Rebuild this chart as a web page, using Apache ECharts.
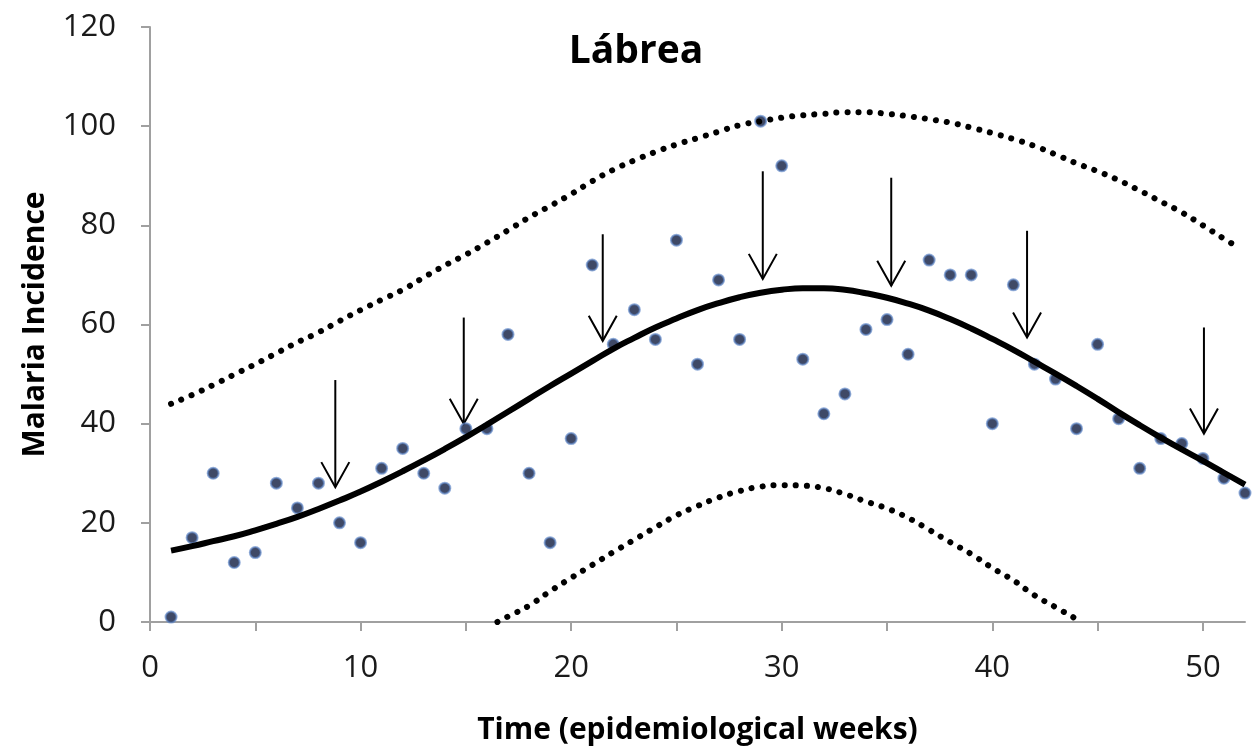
<!DOCTYPE html>
<html>
<head>
<meta charset="utf-8">
<title>Lábrea</title>
<script src="https://cdn.jsdelivr.net/npm/echarts@6/dist/echarts.min.js"></script>
<style>
	html, body { margin: 0; padding: 0; background: #fff; }
	#chart { width: 1259px; height: 752px; }
</style>
</head>
<body>
<div id="chart"></div>
<script>
// semanas epidemiológicas e incidência observada
var weeks = [1,2,3,4,5,6,7,8,9,10,11,12,13,14,15,16,17,18,19,20,21,22,23,24,25,26,
	27,28,29,30,31,32,33,34,35,36,37,38,39,40,41,42,43,44,45,46,47,48,49,50,51,52];
var incidence = [1,17,30,12,14,28,23,28,20,16,31,35,30,27,39,39,58,30,16,37,72,56,63,57,77,52,
	69,57,101,92,53,42,46,59,61,54,73,70,70,40,68,52,49,39,56,41,31,37,36,33,29,26];

// curva ajustada (linha cheia)
var fitted = [14.4,15.3,16.3,17.3,18.5,19.8,21.2,22.8,24.5,26.3,28.3,30.4,32.6,34.9,37.3,39.8,42.4,45.0,47.6,50.1,52.6,55.1,57.3,59.4,61.2,62.9,64.3,65.5,66.4,67.0,67.3,67.3,
	67.0,66.3,65.4,64.2,62.8,61.1,59.2,57.1,54.9,52.5,50.1,47.6,45.0,42.3,39.7,37.2,34.8,32.5,30.1,27.7];

// limite superior (pontilhado)
var upperWeeks = [1,2,3,4,5,6,7,8,9,10,11,12,13,14,15,16,17,18,19,20,21,22,23,24,25,26,
	27,28,29,30,31,32,33,34,35,36,37,38,39,40,41,42,43,44,45,46,47,48,49,50,51,51.7];
var upper = [44.0,45.8,47.8,49.9,52.0,54.2,56.4,58.4,60.7,62.9,65.0,67.0,69.5,71.9,74.1,76.5,79.0,81.6,83.9,86.3,88.9,91.2,93.1,94.8,96.3,97.6,
	98.9,100.2,101.0,101.7,102.2,102.5,102.8,102.8,102.5,102.0,101.4,100.7,99.7,98.6,97.4,96.0,94.3,92.5,90.9,89.1,87.0,84.8,82.6,80.0,77.3,75.5];

// limite inferior (pontilhado)
var lowerWeeks = [16.5,17,18,19,20,21,22,23,24,25,26,27,28,29,30,31,32,33,34,35,36,37,38,39,40,41,42,43,44,44.3];
var lower = [0,1.1,3.3,6.2,8.9,11.5,14.1,16.6,19.1,21.5,23.4,25.1,26.4,27.3,27.6,27.5,27.0,25.8,24.3,22.9,21.0,18.6,16.1,13.7,10.9,8.4,5.4,3.0,0.6,0];

// setas
var arrowWeek = [8.8,14.9,21.5,29.1,35.2,41.65,50.05];
var arrowTop = [48.8,61.4,78.2,90.9,89.6,78.9,59.4];
var arrowTip = [27.2,40.0,56.7,69.2,67.8,57.4,38.0];

// marcas dos eixos
var xTicks = [0,5,10,15,20,25,30,35,40,45,50];
var xLabels = [0,10,20,30,40,50];

function pairs(xs, ys) {
	var out = [];
	for (var i = 0; i < xs.length; i++) out.push([xs[i], ys[i]]);
	return out;
}

var arrowData = [];
for (var i = 0; i < arrowWeek.length; i++) {
	arrowData.push([arrowWeek[i], arrowTop[i], arrowTip[i]]);
}

var fontName = 'Open Sans';
var myChart = echarts.init(document.getElementById('chart'));

var option = {
	animation: false,
	backgroundColor: '#fff',
	title: {
		text: 'Lábrea',
		left: 631,
		textAlign: 'center',
		top: 27,
		textStyle: { fontFamily: fontName, fontSize: 39, fontWeight: 'bold', color: '#000' }
	},
	grid: { left: 150, right: 14, top: 27, bottom: 130 },
	xAxis: {
		type: 'value',
		min: 0,
		max: 52,
		interval: 5,
		name: 'Time (epidemiological weeks)',
		nameLocation: 'middle',
		nameGap: 93,
		nameTextStyle: { fontFamily: fontName, fontSize: 30, fontWeight: 'bold', color: '#000' },
		axisLine: { lineStyle: { color: '#a0a0a0', width: 2 } },
		axisTick: { length: 9, lineStyle: { color: '#a0a0a0', width: 2 }, customValues: xTicks },
		axisLabel: { fontFamily: fontName, fontSize: 31, color: '#1a1a1a', margin: 31, customValues: xLabels },
		splitLine: { show: false }
	},
	yAxis: {
		type: 'value',
		min: 0,
		max: 120,
		interval: 20,
		name: 'Malaria Incidence',
		nameLocation: 'middle',
		nameGap: 100,
		nameTextStyle: { fontFamily: fontName, fontSize: 30, fontWeight: 'bold', color: '#000' },
		axisLine: { show: true, lineStyle: { color: '#a0a0a0', width: 2 } },
		axisTick: { show: true, length: 9, lineStyle: { color: '#a0a0a0', width: 2 } },
		axisLabel: { fontFamily: fontName, fontSize: 31, color: '#1a1a1a', margin: 34 },
		splitLine: { show: false }
	},
	series: [
		{
			name: 'upper',
			type: 'line',
			data: pairs(upperWeeks, upper),
			smooth: true,
			showSymbol: false,
			lineStyle: { color: '#000', width: 6, type: [0.1, 11], cap: 'round' }
		},
		{
			name: 'lower',
			type: 'line',
			data: pairs(lowerWeeks, lower),
			smooth: true,
			showSymbol: false,
			lineStyle: { color: '#000', width: 6, type: [0.1, 11], cap: 'round' }
		},
		{
			name: 'fitted',
			type: 'line',
			data: pairs(weeks, fitted),
			smooth: true,
			showSymbol: false,
			lineStyle: { color: '#000', width: 6 }
		},
		{
			name: 'arrows',
			type: 'custom',
			data: arrowData,
			encode: { x: 0, y: [1, 2] },
			clip: false,
			renderItem: function (params, api) {
				var top = api.coord([api.value(0), api.value(1)]);
				var tip = api.coord([api.value(0), api.value(2)]);
				return {
					type: 'group',
					children: [{
						type: 'line',
						shape: { x1: top[0], y1: top[1], x2: tip[0], y2: tip[1] },
						style: { stroke: '#000', lineWidth: 2 }
					}, {
						type: 'polyline',
						shape: { points: [[tip[0] - 14, tip[1] - 25], [tip[0], tip[1]], [tip[0] + 14, tip[1] - 25]] },
						style: { stroke: '#000', lineWidth: 2, fill: null }
					}]
				};
			}
		},
		{
			name: 'incidence',
			type: 'scatter',
			data: pairs(weeks, incidence),
			symbolSize: 11,
			clip: false,
			itemStyle: { color: '#0f1c40', borderColor: 'rgba(95,135,200,0.85)', borderWidth: 2 }
		}
	]
};

myChart.setOption(option);
</script>
</body>
</html>
